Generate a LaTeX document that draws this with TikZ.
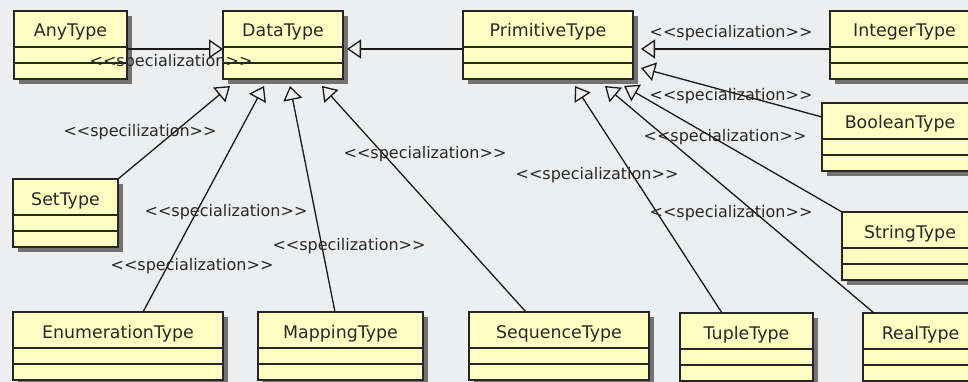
\documentclass[tikz,border=0pt]{standalone}
\usepackage{fontspec}
\setmainfont{DejaVu Sans}[Ligatures=TeXOff]
\usetikzlibrary{arrows.meta,shadows}
\definecolor{bgc}{RGB}{236,238,240}
\definecolor{classfill}{RGB}{255,255,196}
\definecolor{txt}{RGB}{40,40,40}
\tikzset{
  classbox/.style={draw=black!85, line width=1.6pt, fill=classfill, minimum height=68pt,
    inner sep=0pt, outer sep=0pt, anchor=north west,
    drop shadow={shadow xshift=5pt, shadow yshift=-5pt, fill=black!55, opacity=1}},
  classname/.style={font=\fontsize{17.4}{20}\selectfont, text=txt, anchor=base, inner sep=0pt},
  compline/.style={line width=1.4pt, draw=black!85},
  gen/.style={line width=1.3pt, draw=black!90, -{Triangle[open, length=14pt, width=19pt]}},
  stereo/.style={font=\fontsize{16}{18}\selectfont, text=txt, inner sep=0pt},
}
\newcommand\umlclass[5]{%
  \node[classbox, minimum width=#4pt] (#1) at (#2,#3) {};
  \node[classname] (#1-name) at ([yshift=-26pt]#1.north) {#5};
  \draw[compline] ([yshift=-36pt]#1.north west) -- ([yshift=-36pt]#1.north east);
  \draw[compline] ([yshift=-52pt]#1.north west) -- ([yshift=-52pt]#1.north east);
}
\begin{document}
\begin{tikzpicture}[x=1pt, y=-1pt]
\useasboundingbox (0,0) rectangle (968,382);
\clip (0,0) rectangle (968,382);
\fill[bgc] (0,0) rectangle (968,382);

% classes
\umlclass{AnyType}{14}{11}{113}{AnyType}
\umlclass{DataType}{223}{11}{120}{DataType}
\umlclass{PrimitiveType}{463}{11}{170}{PrimitiveType}
\umlclass{IntegerType}{830}{11}{149}{IntegerType}
\umlclass{BooleanType}{822}{103}{156}{BooleanType}
\umlclass{StringType}{842}{212}{136}{StringType}
\umlclass{SetType}{13}{179}{105}{SetType}
\umlclass{EnumerationType}{13}{312}{210}{EnumerationType}
\umlclass{MappingType}{258}{312}{165}{MappingType}
\umlclass{SequenceType}{469}{312}{180}{SequenceType}
\umlclass{TupleType}{680}{313}{133}{TupleType}
\umlclass{RealType}{863}{313}{115}{RealType}

% generalizations
\draw[gen] ([yshift=-38pt]AnyType.north east) -- ([yshift=-38pt]DataType.north west);
\draw[gen] ([yshift=-38pt]PrimitiveType.north west) -- ([xshift=4pt,yshift=-38pt]DataType.north east);
\draw[gen] ([yshift=-38pt]IntegerType.north west) -- ([xshift=8pt,yshift=-38pt]PrimitiveType.north east);
\draw[gen] ([yshift=-14pt]BooleanType.north west) -- ([xshift=8pt,yshift=-57pt]PrimitiveType.north east);
\draw[gen] (StringType.north west) -- ([xshift=-9pt,yshift=-7pt]PrimitiveType.south east);
\draw[gen] ([xshift=11pt]RealType.north west) -- ([xshift=-28pt,yshift=-7pt]PrimitiveType.south east);
\draw[gen] ([xshift=42pt]TupleType.north west) -- ([xshift=-58pt,yshift=-7pt]PrimitiveType.south east);
\draw[gen] (SetType.north east) -- ([xshift=7pt,yshift=-7pt]DataType.south west);
\draw[gen] ([xshift=130pt]EnumerationType.north west) -- ([xshift=41pt,yshift=-7pt]DataType.south west);
\draw[gen] ([xshift=77pt]MappingType.north west) -- ([xshift=67pt,yshift=-7pt]DataType.south west);
\draw[gen] ([xshift=57pt]SequenceType.north west) -- ([xshift=99pt,yshift=-7pt]DataType.south west);

% stereotypes
\node[stereo] (s1) at (171,62) {<<specialization>>};
\node[stereo] (s2) at (731,33) {<<specialization>>};
\node[stereo] (s3) at (731,96) {<<specialization>>};
\node[stereo] (s4) at (725,137) {<<specialization>>};
\node[stereo] (s5) at (140,132) {<<specilization>>};
\node[stereo] (s6) at (425,154) {<<specialization>>};
\node[stereo] (s7) at (597,175) {<<specialization>>};
\node[stereo] (s8) at (226,212) {<<specialization>>};
\node[stereo] (s9) at (731,213) {<<specialization>>};
\node[stereo] (s10) at (349,246) {<<specilization>>};
\node[stereo] (s11) at (192,266) {<<specialization>>};
\end{tikzpicture}
\end{document}
